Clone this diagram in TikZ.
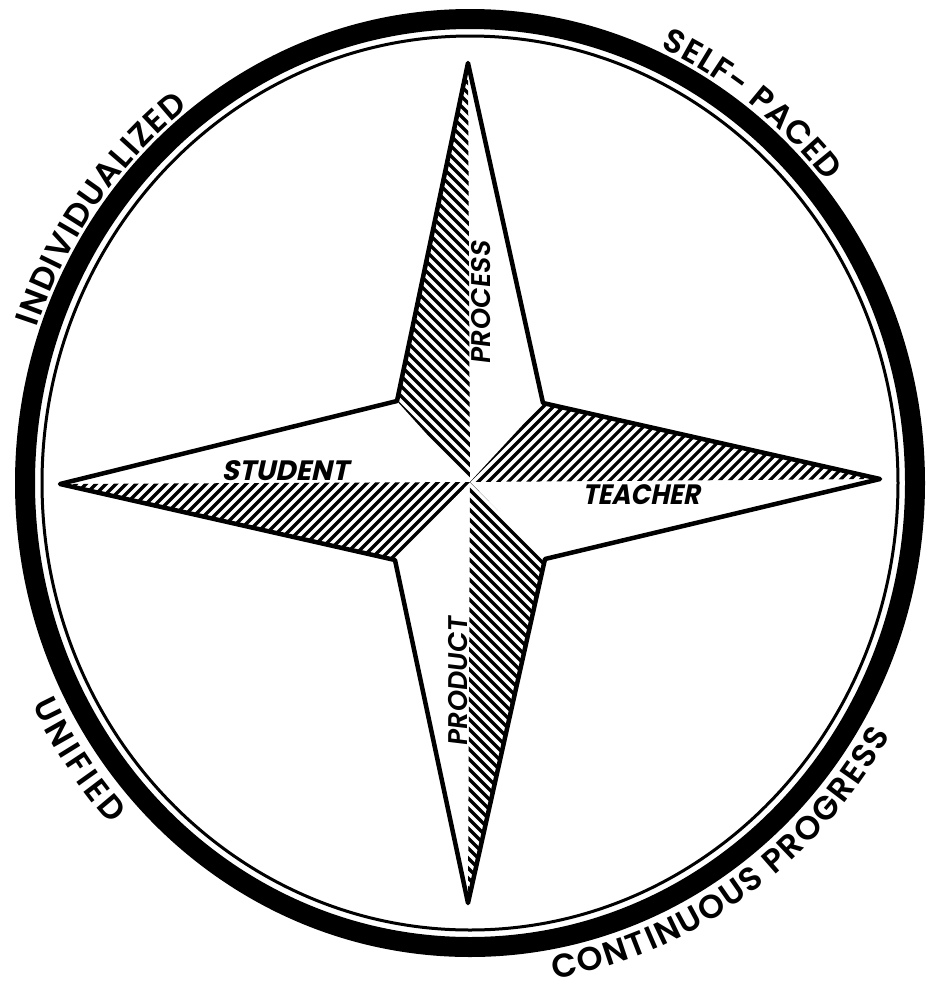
\documentclass[tikz,border=0pt]{standalone}
\usepackage{fontspec}
\usetikzlibrary{decorations.text}
\newfontfamily\lblfont{Poppins SemiBold}
\newfontfamily\handfont[FakeSlant=0.22]{Poppins}
\newfontfamily\handmfont[FakeSlant=0.12]{Poppins SemiBold}
\newcommand\ringfont{\lblfont\fontsize{33}{33}\selectfont}
\begin{document}
\begin{tikzpicture}[x=1pt,y=-1pt,
  hatch/.style={line width=3.2pt},
  starline/.style={line width=4.5pt,line join=round},
  armlbl/.style={font=\handfont\bfseries\fontsize{28}{28}\selectfont, inner sep=0pt},
  armlbl2/.style={font=\handmfont\fontsize{27}{27}\selectfont, inner sep=0pt},
  ringlbl/.style={decorate, decoration={text along path, text align=fit to path, text={|\ringfont|#1}}}
]
\useasboundingbox (0,0) rectangle (927,989);
\fill[white] (0,0) rectangle (927,989);
% star points
\coordinate (C) at (470,482);
\coordinate (N) at (468,63);
\coordinate (NE) at (543,403);
\coordinate (E) at (880,479);
\coordinate (SE) at (545,559);
\coordinate (S) at (468,903);
\coordinate (SW) at (395,560);
\coordinate (W) at (60,484);
\coordinate (NW) at (397,401);
\coordinate (O) at (470,483);
% hatching
\begin{scope}
  \clip (N) -- (NW) -- (C) -- cycle;
  \foreach \k in {-95,-85,...,415} \draw[hatch] ({\k+30},30) -- ({\k+520},520);
\end{scope}
\begin{scope}
  \clip (S) -- (SE) -- (C) -- cycle;
  \foreach \k in {-440,-430,...,70} \draw[hatch] ({\k+460},460) -- ({\k+920},920);
\end{scope}
\begin{scope}
  \clip (E) -- (NE) -- (C) -- cycle;
  \foreach \k in {940,950,...,1370} \draw[hatch] ({\k-380},380) -- ({\k-500},500);
\end{scope}
\begin{scope}
  \clip (W) -- (SW) -- (C) -- cycle;
  \foreach \k in {540,550,...,970} \draw[hatch] ({\k-470},470) -- ({\k-570},570);
\end{scope}
% star outline
\draw[starline] (N) -- (NE) -- (E) -- (SE) -- (S) -- (SW) -- (W) -- (NW) -- cycle;
% arm labels
\node[armlbl] (student) at (285,471) {STUDENT};
\node[armlbl, xscale=0.92] (teacher) at (641,495) {TEACHER};
\node[armlbl2, rotate=90] (process) at (481,303) {PROCESS};
\node[armlbl2, rotate=90] (product) at (458,682) {PRODUCT};
% ring
\draw[line width=20pt] (O) ellipse [x radius=445pt, y radius=464pt];
\draw[line width=3pt] (O) ellipse [x radius=428pt, y radius=447pt];
% ring labels
\path[ringlbl={INDIVIDUALIZED}] ([shift={(O)}]161:458pt and 477pt) arc[start angle=161, end angle=128, x radius=458pt, y radius=477pt];
\path[ringlbl={SELF- PACED}] ([shift={(O)}]65.5:459pt and 478pt) arc[start angle=65.5, end angle=39, x radius=459pt, y radius=478pt];
\path[ringlbl={UNIFIED}] ([shift={(O)}]206:487pt and 506pt) arc[start angle=206, end angle=222.5, x radius=487pt, y radius=506pt];
\path[ringlbl={CONTINUOUS PROGRESS}] ([shift={(O)}]-80:485pt and 504pt) arc[start angle=-80, end angle=-30, x radius=485pt, y radius=504pt];
\end{tikzpicture}
\end{document}
